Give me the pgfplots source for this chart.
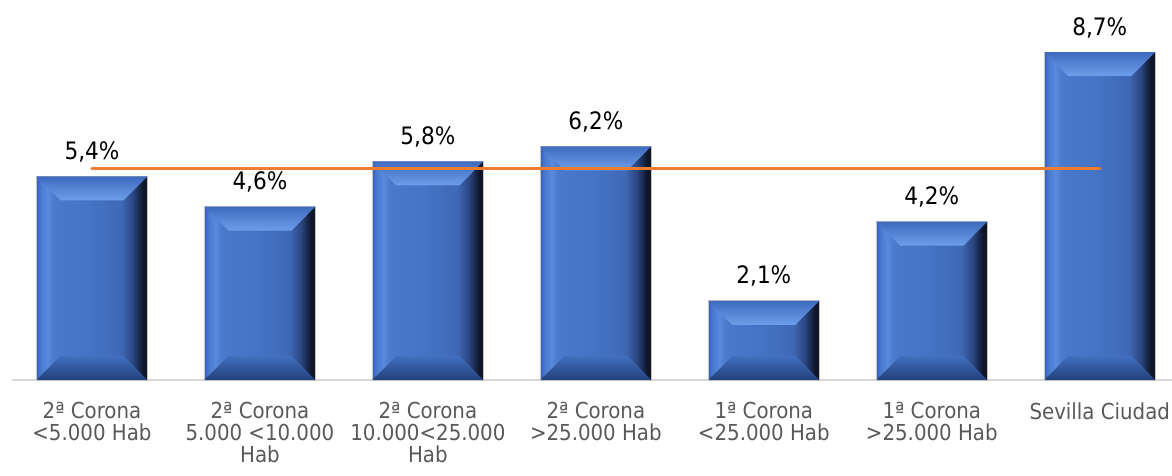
\documentclass[border=0pt]{standalone}
\usepackage{fontspec}
\setmainfont{DejaVu Sans Condensed}
\usepackage{pgfplots}
\pgfplotsset{compat=1.18}
\definecolor{tickgray}{HTML}{595959}
\definecolor{axgray}{HTML}{D9D9D9}
\definecolor{lineorange}{HTML}{ED7D31}
\definecolor{sA}{HTML}{3862B4}
\definecolor{sB}{HTML}{4A7BD0}
\definecolor{sC}{HTML}{5A8ADC}
\definecolor{sD}{HTML}{4A78CA}
\definecolor{face}{HTML}{4472C4}
\definecolor{sE}{HTML}{3F69B6}
\definecolor{sF}{HTML}{2A4680}
\definecolor{sG}{HTML}{0E1628}
\definecolor{tTop}{HTML}{3F6BBF}
\definecolor{tBot}{HTML}{6E9EEA}
\definecolor{bTop}{HTML}{4170C0}
\definecolor{bBot}{HTML}{22407A}
% TikZ maps a path onto the 25bp--75bp part of a shading
\pgfdeclarehorizontalshading{barH}{100bp}{color(0bp)=(sA); color(25bp)=(sA); color(27bp)=(sB); color(30bp)=(sC); color(33bp)=(sD); color(50bp)=(face); color(63bp)=(sE); color(68.5bp)=(sF); color(73bp)=(sG); color(75bp)=(sG); color(100bp)=(sG)}
\begin{document}
\begin{tikzpicture}
\begin{axis}[
  scale only axis,
  width=580pt, height=190pt,
  xmin=-0.476, xmax=6.43,
  ymin=0, ymax=10.08,
  enlargelimits=false,
  clip=false,
  hide y axis,
  axis x line*=bottom,
  x axis line style={draw=axgray, line width=1pt},
  xtick={0,1,2,3,4,5,6},
  major tick length=0pt,
  xticklabels={{2ª Corona\\<5.000 Hab},{2ª Corona\\5.000 <10.000\\Hab},{2ª Corona\\10.000<25.000\\Hab},{2ª Corona\\>25.000 Hab},{1ª Corona\\<25.000 Hab},{1ª Corona\\>25.000 Hab},{Sevilla Ciudad\\\mbox{}}},
  xticklabel style={font=\fontsize{11}{11}\selectfont, text=tickgray, align=center, anchor=north, inner sep=0pt, yshift=-11pt},
  /pgf/number format/assume math mode=true,
  mybar/.style={ybar, bar width=55.5pt, bar shift=0pt, draw=gray!45, line width=0.4pt, shading=barH,
    nodes near coords={\pgfmathprintnumber[fixed,fixed zerofill,precision=1,use comma]{\pgfplotspointmeta}\%},
    every node near coord/.append style={font=\fontsize{12}{13}\selectfont, text=black, anchor=base, yshift=8.5pt}},
  topbev/.style={draw=none, mark=none, top color=tTop, bottom color=tBot},
  botbev/.style={draw=none, mark=none, top color=bTop, bottom color=bBot},
]
% main bars, one plot each so that each bar gets its own shading
\addplot[mybar] coordinates {(0,5.4)};
\addplot[mybar] coordinates {(1,4.6)};
\addplot[mybar] coordinates {(2,5.8)};
\addplot[mybar] coordinates {(3,6.2)};
\addplot[mybar] coordinates {(4,2.1)};
\addplot[mybar] coordinates {(5,4.2)};
\addplot[mybar] coordinates {(6,8.7)};
% top bevels (bar top down 12pt, 45 degree corners)
\addplot[topbev] coordinates {(-0.330,5.4) (0.330,5.4) (0.188,4.763) (-0.188,4.763)} -- cycle;
\addplot[topbev] coordinates {(0.670,4.6) (1.330,4.6) (1.188,3.963) (0.812,3.963)} -- cycle;
\addplot[topbev] coordinates {(1.670,5.8) (2.330,5.8) (2.188,5.163) (1.812,5.163)} -- cycle;
\addplot[topbev] coordinates {(2.670,6.2) (3.330,6.2) (3.188,5.563) (2.812,5.563)} -- cycle;
\addplot[topbev] coordinates {(3.670,2.1) (4.330,2.1) (4.188,1.463) (3.812,1.463)} -- cycle;
\addplot[topbev] coordinates {(4.670,4.2) (5.330,4.2) (5.188,3.563) (4.812,3.563)} -- cycle;
\addplot[topbev] coordinates {(5.670,8.7) (6.330,8.7) (6.188,8.063) (5.812,8.063)} -- cycle;
% bottom bevels
\addplot[botbev] coordinates {(-0.330,0) (0.330,0) (0.188,0.637) (-0.188,0.637)} -- cycle;
\addplot[botbev] coordinates {(0.670,0) (1.330,0) (1.188,0.637) (0.812,0.637)} -- cycle;
\addplot[botbev] coordinates {(1.670,0) (2.330,0) (2.188,0.637) (1.812,0.637)} -- cycle;
\addplot[botbev] coordinates {(2.670,0) (3.330,0) (3.188,0.637) (2.812,0.637)} -- cycle;
\addplot[botbev] coordinates {(3.670,0) (4.330,0) (4.188,0.637) (3.812,0.637)} -- cycle;
\addplot[botbev] coordinates {(4.670,0) (5.330,0) (5.188,0.637) (4.812,0.637)} -- cycle;
\addplot[botbev] coordinates {(5.670,0) (6.330,0) (6.188,0.637) (5.812,0.637)} -- cycle;
% average line
\addplot[lineorange, line width=1.5pt, line cap=round, mark=none] coordinates {(0,5.62) (6,5.62)};
\end{axis}
\pgfresetboundingbox
\path[use as bounding box] (current axis.south west) ++(-6pt,-48pt) rectangle (current axis.north east);
\end{tikzpicture}
\end{document}
